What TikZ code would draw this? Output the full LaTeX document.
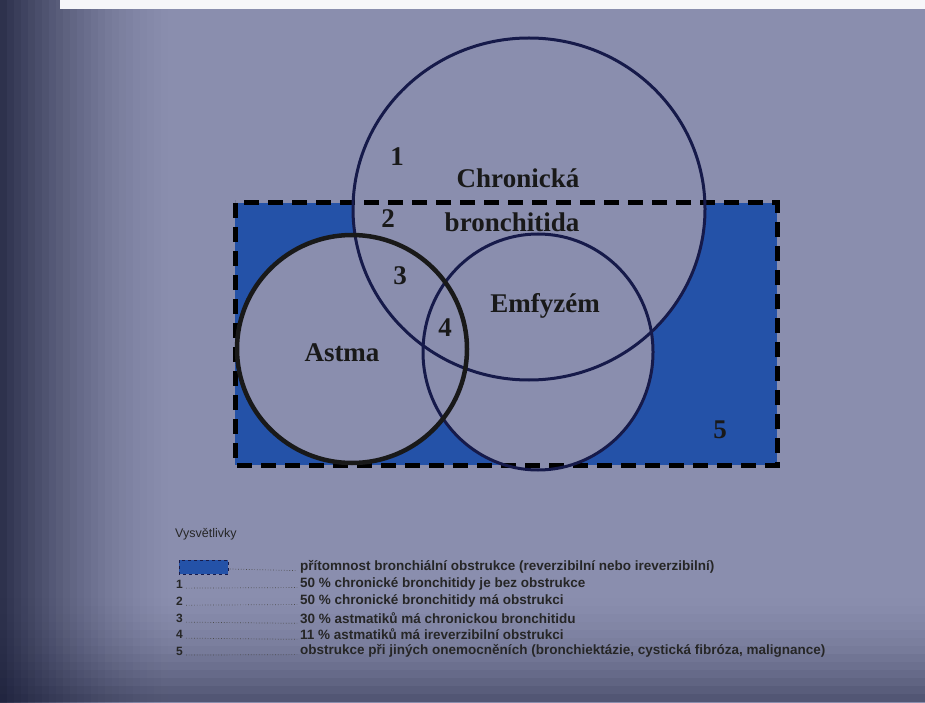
\documentclass[tikz,border=0pt]{standalone}
\usepackage{fontspec}
\setmainfont{Liberation Serif}
\newfontfamily\legfont{Liberation Sans}
\begin{document}
\begin{tikzpicture}[x=1pt,y=-1pt,
  bigtxt/.style={font=\fontsize{27}{29}\selectfont\bfseries, text=black!90, inner sep=0pt},
  legtxt/.style={font=\legfont\fontsize{13.5}{15}\selectfont\bfseries, text=black!85, anchor=west, inner sep=0pt},
  legnum/.style={font=\legfont\fontsize{12}{14}\selectfont\bfseries, text=black!85, anchor=west, inner sep=0pt},
  leader/.style={dotted, line width=0.7pt, black!70},
  navy/.style={draw=navyc, line width=3pt},
  ]
\definecolor{bgc}{RGB}{138,142,174}
\definecolor{bgdark}{RGB}{20,24,50}
\definecolor{bluef}{RGB}{36,82,168}
\definecolor{navyc}{RGB}{22,26,74}
\useasboundingbox (0,0) rectangle (925,703);
% background with vignette
\fill[bgc] (0,0) rectangle (925,703);
\foreach \i [evaluate=\i as \op using {0.8*(1-(\i+0.5)/25)^1.6}] in {0,...,24}
  \fill[bgdark, fill opacity=\op] (\i*7,0) rectangle (\i*7+7,703);
\foreach \j [evaluate=\j as \op using {0.5*((\j+0.5)/14)^1.8}] in {0,...,13}
  \fill[bgdark, fill opacity=\op] (0,590+\j*8) rectangle (925,598+\j*8);
\fill[white!92!bgc] (60,0) rectangle (925,9);
% blue region
\begin{scope}
  \clip (235,203) rectangle (777,465);
  \fill[bluef] (235,203) rectangle (777,465);
  \fill[bgc] (529,209) ellipse [x radius=176, y radius=171];
  \fill[bgc] (352,349) ellipse [x radius=115, y radius=114];
  \fill[bgc] (538,352) ellipse [x radius=115, y radius=118];
\end{scope}
% dashed rectangle
\draw[black, line width=5pt, dash pattern=on 15pt off 9pt] (235,203) rectangle (777,465);
% circles
\draw[navy] (529,209) ellipse [x radius=176, y radius=171];
\draw[navy] (538,352) ellipse [x radius=115, y radius=118];
\draw[black!90, line width=4.5pt] (352,349) ellipse [x radius=115, y radius=114];
% labels
\node[bigtxt] (n1) at (397,157) {1};
\node[bigtxt] (chron) at (518,178) {Chronická};
\node[bigtxt] (n2) at (388,219) {2};
\node[bigtxt] (bron) at (512,222) {bronchitida};
\node[bigtxt] (n3) at (400,276) {3};
\node[bigtxt] (emf) at (545,306) {Emfyzém};
\node[bigtxt] (n4) at (445,328) {4};
\node[bigtxt] (ast) at (342,353) {Astma};
\node[bigtxt] (n5) at (720,430) {5};
% legend
\node[font=\legfont\fontsize{12.5}{14}\selectfont, text=black!85, anchor=west, inner sep=0pt] (vys) at (175,534) {Vysvětlivky};
\draw[fill=bluef, draw=navyc, line width=1pt, dashed] (179,560) rectangle (228,574);
\coordinate (sw) at (230,569);
\node[legtxt] (t0) at (300,567) {přítomnost bronchiální obstrukce (reverzibilní nebo ireverzibilní)};
\node[legnum] (k1) at (176,584) {1};
\node[legtxt] (t1) at (300,584) {50 \% chronické bronchitidy je bez obstrukce};
\node[legnum] (k2) at (176,601) {2};
\node[legtxt] (t2) at (300,601) {50 \% chronické bronchitidy má obstrukci};
\node[legnum] (k3) at (176,618) {3};
\node[legtxt] (t3) at (300,618) {30 \% astmatiků má chronickou bronchitidu};
\node[legnum] (k4) at (176,634) {4};
\node[legtxt] (t4) at (300,634) {11 \% astmatiků má ireverzibilní obstrukci};
\node[legnum] (k5) at (176,651) {5};
\node[legtxt] (t5) at (300,651) {obstrukce při jiných onemocněních (bronchiektázie, cystická fibróza, malignance)};
\draw[leader] (sw) -- ([xshift=-3pt]t0.base west);
\draw[leader] ([xshift=3pt]k1.base east) -- ([xshift=-3pt]t1.base west);
\draw[leader] ([xshift=3pt]k2.base east) -- ([xshift=-3pt]t2.base west);
\draw[leader] ([xshift=3pt]k3.base east) -- ([xshift=-3pt]t3.base west);
\draw[leader] ([xshift=3pt]k4.base east) -- ([xshift=-3pt]t4.base west);
\draw[leader] ([xshift=3pt]k5.base east) -- ([xshift=-3pt]t5.base west);
\end{tikzpicture}
\end{document}
